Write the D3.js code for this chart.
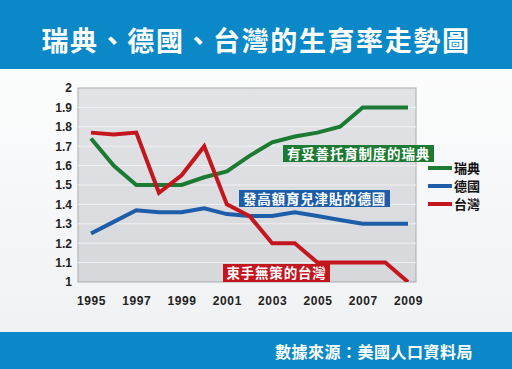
<!DOCTYPE html>
<html>
<head>
<meta charset="utf-8">
<script src="https://cdn.jsdelivr.net/npm/d3@7"></script>
<style>
  body { margin: 0; background: #fff; }
  svg { display: block; font-family: "Noto Sans CJK TC", "Liberation Sans", sans-serif; }
</style>
</head>
<body>
<div class="chart"></div>
<script>
let years   = [1995, 1996, 1997, 1998, 1999, 2000, 2001, 2002, 2003, 2004, 2005, 2006, 2007, 2008, 2009];
let sweden  = [1.74, 1.60, 1.50, 1.50, 1.50, 1.54, 1.57, 1.65, 1.72, 1.75, 1.77, 1.80, 1.90, 1.90, 1.90];
let germany = [1.25, 1.31, 1.37, 1.36, 1.36, 1.38, 1.35, 1.34, 1.34, 1.36, 1.34, 1.32, 1.30, 1.30, 1.30];
let taiwan  = [1.77, 1.76, 1.77, 1.46, 1.55, 1.70, 1.40, 1.34, 1.20, 1.20, 1.10, 1.10, 1.10, 1.10, 1.00];
let xTicks  = [1995, 1997, 1999, 2001, 2003, 2005, 2007, 2009];
let yTicks  = [1, 1.1, 1.2, 1.3, 1.4, 1.5, 1.6, 1.7, 1.8, 1.9, 2];
let seriesNames = ["瑞典", "德國", "台灣"];
let colors  = ["#1c7a33", "#1e5ea8", "#c3161f"];
let notes   = ["有妥善托育制度的瑞典", "發高額育兒津貼的德國", "束手無策的台灣"];

let W = 512, H = 369;
let plot = { left: 78, right: 416, top: 88, bottom: 282 };

let svg = d3.select(".chart").append("svg")
    .attr("width", W)
    .attr("height", H);

let defs = svg.append("defs");
let bg = defs.append("linearGradient").attr("id", "pagebg").attr("x1", 0).attr("y1", 0).attr("x2", 0).attr("y2", 1);
bg.append("stop").attr("offset", "0%").attr("stop-color", "#ffffff");
bg.append("stop").attr("offset", "100%").attr("stop-color", "#eef0f2");
let pg = defs.append("linearGradient").attr("id", "plotbg").attr("x1", 0).attr("y1", 0).attr("x2", 0).attr("y2", 1);
pg.append("stop").attr("offset", "0%").attr("stop-color", "#e2e3e6");
pg.append("stop").attr("offset", "100%").attr("stop-color", "#d6d8dc");

svg.append("rect").attr("width", W).attr("height", H).attr("fill", "url(#pagebg)");

// header & footer bands
svg.append("rect").attr("x", 0).attr("y", 0).attr("width", W).attr("height", 69).attr("fill", "#0a88c7");
svg.append("text")
    .attr("x", W / 2).attr("y", 51)
    .attr("text-anchor", "middle")
    .attr("fill", "#fff")
    .attr("font-size", 27).attr("font-weight", "bold")
    .attr("letter-spacing", 1.6)
    .text("瑞典、德國、台灣的生育率走勢圖");

svg.append("rect").attr("x", 0).attr("y", 332).attr("width", W).attr("height", H - 332).attr("fill", "#0a88c7");
svg.append("text")
    .attr("x", 473).attr("y", 358)
    .attr("text-anchor", "end")
    .attr("fill", "#fff")
    .attr("font-size", 16).attr("font-weight", "bold")
    .attr("letter-spacing", 0.5)
    .text("數據來源：美國人口資料局");

let xScale = d3.scaleLinear().domain([1995, 2009]).range([91, 408]);
let yScale = d3.scaleLinear().domain([1, 2]).range([plot.bottom, plot.top]);

svg.append("rect")
    .attr("x", plot.left).attr("y", plot.top)
    .attr("width", plot.right - plot.left).attr("height", plot.bottom - plot.top)
    .attr("fill", "url(#plotbg)")
    .attr("stroke", "#a9abae").attr("stroke-width", 1);

// gridlines
svg.append("g")
    .selectAll("line")
    .data(yTicks.slice(1, -1))
    .enter().append("line")
    .attr("x1", plot.left).attr("x2", plot.right)
    .attr("y1", d => yScale(d)).attr("y2", d => yScale(d))
    .attr("stroke", "#f1f1f2").attr("stroke-width", 1);

let yAxis = d3.axisLeft(yScale).tickValues(yTicks).tickFormat(d => d3.format("")(+d.toFixed(1))).tickSize(0).tickPadding(6);
let gy = svg.append("g").attr("transform", `translate(${plot.left}, 0)`).call(yAxis);
gy.select(".domain").remove();
gy.selectAll("text").attr("font-size", 12).attr("font-weight", "bold").attr("fill", "#222")
    .attr("font-family", "Liberation Sans, Arial, sans-serif");

let xAxis = d3.axisBottom(xScale).tickValues(xTicks).tickFormat(d3.format("d")).tickSize(0).tickPadding(14);
let gx = svg.append("g").attr("transform", `translate(0, ${plot.bottom})`).call(xAxis);
gx.select(".domain").remove();
gx.selectAll("text").attr("font-size", 12).attr("font-weight", "bold").attr("fill", "#222")
    .attr("letter-spacing", 0.6)
    .attr("font-family", "Liberation Sans, Arial, sans-serif");

let line = d3.line()
    .x((d, i) => xScale(years[i]))
    .y(d => yScale(d));

let allSeries = [sweden, germany, taiwan];

let clip = defs.append("clipPath").attr("id", "plotclip");
clip.append("rect").attr("x", plot.left).attr("y", plot.top - 5)
    .attr("width", plot.right - plot.left).attr("height", plot.bottom - plot.top + 5);

svg.append("g").attr("clip-path", "url(#plotclip)")
    .selectAll("path")
    .data(allSeries)
    .enter().append("path")
    .attr("d", line)
    .attr("fill", "none")
    .attr("stroke", (d, i) => colors[i])
    .attr("stroke-width", 4)
    .attr("stroke-linejoin", "miter");

// annotation boxes
let noteBoxes = [
    { x: 283, y: 145, w: 151, h: 17 },
    { x: 239, y: 190, w: 151, h: 17 },
    { x: 223, y: 264, w: 107, h: 18 }
];
let ng = svg.append("g");
noteBoxes.forEach((b, i) => {
    ng.append("rect").attr("x", b.x).attr("y", b.y).attr("width", b.w).attr("height", b.h)
        .attr("fill", colors[i]);
    ng.append("text")
        .attr("x", b.x + b.w / 2).attr("y", b.y + b.h / 2 + 5)
        .attr("text-anchor", "middle")
        .attr("fill", "#fff")
        .attr("font-size", 13.5).attr("font-weight", "bold")
        .attr("letter-spacing", 0.8)
        .text(notes[i]);
});

// legend
let lg = svg.append("g").attr("transform", "translate(428, 168)");
seriesNames.forEach((name, i) => {
    let g = lg.append("g").attr("transform", `translate(0, ${i * 18})`);
    g.append("line").attr("x1", 0).attr("x2", 24).attr("y1", 0).attr("y2", 0)
        .attr("stroke", colors[i]).attr("stroke-width", 4);
    g.append("text").attr("x", 26).attr("y", 5)
        .attr("font-size", 13).attr("font-weight", "bold").attr("fill", "#111")
        .text(name);
});
</script>
</body>
</html>
